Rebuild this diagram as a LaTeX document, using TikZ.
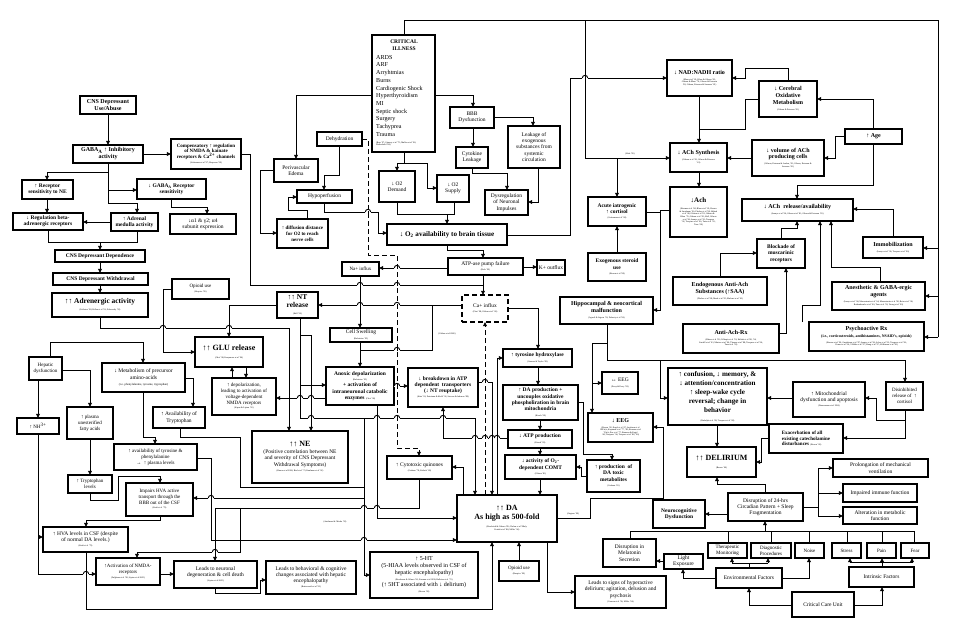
\documentclass[tikz,border=0pt]{standalone}
\usepackage{fontspec}
\setmainfont{Liberation Serif}
\usetikzlibrary{arrows.meta}
\newcommand\bx[7][]{\node[box,minimum width={#5-#3},minimum height={#6-#4},#1] (#2) at ({(#3+#5)/2},{(#4+#6)/2}) {#7};}
\newcommand\ct[1]{\\[-1pt]{\fontsize{2.2}{2.6}\selectfont\mdseries\begin{tabular}[t]{@{}c@{}}#1\end{tabular}}}
\newcommand\ctin[1]{{\fontsize{2.2}{2.6}\selectfont\mdseries #1}}
\newcommand\hop[2]{\draw[white,line width=1.6pt] (#1-2.7,#2) -- (#1+2.7,#2);
 \draw[ln] (#1,#2-1.2) -- (#1,#2+1.2);
 \draw[ln] (#1-2.7,#2) arc[start angle=180,end angle=0,radius=2.7pt];}
\tikzset{
 box/.style={draw,line width=1.35pt,fill=white,inner sep=0.4pt,outer sep=0pt,align=center},
 f5/.style={font=\fontsize{5}{5.8}\selectfont},
 f55/.style={font=\fontsize{5.5}{6.3}\selectfont},
 f6/.style={font=\fontsize{6}{6.9}\selectfont},
 b5/.style={font=\fontsize{5}{5.8}\selectfont\bfseries},
 b55/.style={font=\fontsize{5.5}{6.3}\selectfont\bfseries},
 b6/.style={font=\fontsize{6}{6.9}\selectfont\bfseries},
 b7/.style={font=\fontsize{7}{8}\selectfont\bfseries},
 b75/.style={font=\fontsize{7.4}{8.4}\selectfont\bfseries},
 b8/.style={font=\fontsize{8}{9}\selectfont\bfseries},
 cite/.style={font=\fontsize{2.2}{2.6}\selectfont,inner sep=0pt},
 ar/.style={line width=0.9pt,-{Triangle[length=4.2pt,width=3.8pt]}},
 ln/.style={line width=0.9pt},
 dsh/.style={dash pattern=on 5pt off 3pt},
}
\begin{document}
\begin{tikzpicture}[x=1pt,y=-1pt]
\useasboundingbox (0,0) rectangle (954,633);
\fill[white] (0,0) rectangle (954,633);
% ---------- left column ----------
\bx[b6]{cnsuse}{80}{96}{136}{114}{CNS Depressant\\Use/Abuse}
\bx[b6]{gaba}{73}{145}{143}{163}{GABA\textsubscript{A} ↑ Inhibitory\\activity}
\bx[b5]{comp}{171}{139}{241}{169}{Compensatory ↑ regulation\\of NMDA \& kainate\\receptors \& Ca\textsuperscript{2+} channels\ct{(Lieberman et al '97; Hesperon '99)}}
\bx[b55]{recsens}{22}{180}{73}{199}{↑ Receptor\\sensitivity to NE}
\bx[b55]{gabarec}{137}{179}{206}{199}{↓ GABA\textsubscript{A} Receptor\\sensitivity}
\bx[b55]{regbeta}{13}{213}{83}{230}{↓ Regulation beta-\\adrenergic receptors}
\bx[b55]{adrenal}{111}{213}{158}{231}{↑ Adrenal\\medulla activity}
\bx[f55]{alpha}{170}{214}{236}{234}{↓α1 \& γ2; α4\\subunit expression}
\bx[b55]{dep}{55}{250}{145}{262}{CNS Depressant Dependence}
\bx[b55]{withd}{53}{273}{148}{285}{CNS Depressant Withdrawal}
\bx[b75]{adren}{52}{293}{148}{317}{↑↑ Adrenergic activity\ct{(Littleton '98; Pullen et al '92; Pobowsky '92)}}
\bx[f5]{opi1}{172}{279}{229}{299}{Opioid use\ct{(Hospice '99)}}
\bx[b8]{glu}{195}{337}{263}{367}{↑↑ GLU release\ct{(Choi '98; Kasyanova et al '96)}}
\bx[f5]{hepatic}{29}{357}{62}{380}{Hepatic\\dysfunction}
\bx[f55]{metab}{102}{363}{185}{392}{↓ Metabolism of precursor\\amino-acids\\{\fontsize{3}{3.5}\selectfont (i.e. phenylalanine, tyrosine, tryptophan)}}
\bx[f55]{availtrp}{153}{407}{205}{428}{↑ Availability of\\Tryptophan}
\bx[f5]{depol}{212}{378}{276}{415}{↑ depolarization,\\leading to activation of\\voltage-dependent\\NMDA receptors\ct{(Kapur \& Lipton '92)}}
\bx[f5]{nh}{17}{418}{59}{434}{↑ NH\textsuperscript{3+}}
\bx[f5]{plasma}{67}{407}{113}{439}{↑ plasma\\unesterified\\fatty acids}
\bx[f5]{availtyr}{114}{444}{197}{470}{↑ availability of tyrosine \&\\phenylalanine\\→\ \ ↑ plasma levels}
\bx[f5]{trp}{68}{475}{112}{493}{↑ Tryptophan\\levels}
\bx[f5]{impairs}{126}{483}{193}{516}{Impairs HVA active\\transport through the\\BBB out of the CSF\ct{(Kraft et al '79)}}
\bx[f55]{hva}{43}{527}{128}{552}{↑ HVA levels in CSF (despite\\of normal DA levels.)\ct{(Kraft et al '79)}}
\bx[f5]{nmda}{96}{558}{160}{585}{↑Activation of NMDA-\\receptors\ct{(Fulghesu et al '98; Lipton et al 2005)}}
\bx[f55]{neuro}{174}{561}{257}{588}{Leads to neuronal\\degeneration \& cell death\ct{(Lipton et al 2005)}}
\bx[f55]{ne}{252}{431}{348}{483}{{\fontsize{8}{9}\selectfont\bfseries ↑↑ NE}\\[0.5pt](Positive correlation between NE\\and severity of CNS Depressant\\Withdrawal Symptoms)\ct{(Hawas et al 2000; Bird et al '73; Kaufman et al '92)}}
\bx[f55]{behav}{266}{561}{356}{594}{Leads to behavioral \& cognitive\\changes associated with hepatic\\encephalopathy\ct{(Butterworth et al '93)}}
\bx[f6]{fivht}{370}{552}{478}{598}{↑ 5-HT\\(5-HIAA levels observed in CSF of\\hepatic encephalopathy)\ct{(Brodersen \& Gibson '90; Foxman et al 1990; Balleine et al '72)}\\(↑ 5HT associated with ↓ delirium)\ct{(Brown '00)}}
\bx[f55]{cyto}{387}{456}{452}{479}{↑ Cytotoxic quinones\ct{(Graham '78; Kalisch '80)}}
\bx[b8]{da}{457}{495}{557}{542}{↑↑ DA\\As high as 500-fold\ct{(Broderick \& Gibson '89; Globus et al '88a,b;\\Kotaki et al '88; Miller '94)}}
\bx[b55]{atpprod}{508}{430}{572}{448}{↓ ATP production\ct{(Kirsch '99)}}
\bx[b55]{comt}{505}{455}{576}{479}{↓ activity of O\textsubscript{2}-\\dependent COMT\ct{(Gibson '81)}}
\bx[b55]{toxic}{587}{460}{640}{492}{↑ production\ \ of\\DA toxic\\metabolites\ct{(Graham '81)}}
\bx[b6]{eegdown}{588}{413}{653}{442}{↓ EEG\ct{(Brown '00; Engel et al '47; Jacobson et al\\1993a,b; Koponen et al '77, '80; Romano et al\\'59a,b; Pro et al '77; Romano \& Engel\\'44; Trzepacz '94; Trzepacz et al '88, '96)}}
\bx[f5]{opida}{499}{561}{539}{581}{Opioid use\ct{(Hospice '99)}}
\bx[f55]{hyper}{575}{576}{666}{608}{Leads to signs of hyperactive\\delirium; agitation, delusion and\\psychosis\ct{(Cassem et al '96; Miller '94)}}
\bx[b55]{neurocog}{653}{500}{705}{528}{Neurocognitive\\Dysfunction}
\bx[f55]{melat}{603}{539}{656}{567}{Disruption in\\Melatonin\\Secretion}
\bx[f55]{light}{664}{554}{703}{569}{Light\\Exposure}
\bx[b5,align=left]{exac}{769}{424}{843}{453}{Exacerbation of all\\existing catecholamine\\disturbances \ctin{(Brown '00)}}
\bx[b8]{delir}{687}{447}{756}{477}{↑↑ DELIRIUM\ct{(Brown '00)}}
\bx[f55]{prolong}{833}{459}{928}{477}{Prolongation of mechanical\\ventilation}
\bx[f55]{immune}{843}{484}{917}{502}{Impaired immune function}
\bx[f55]{metabolic}{843}{507}{917}{524}{Alteration in metabolic\\function}
\bx[f55]{circ}{728}{493}{803}{521}{Disruption of 24-hrs\\Circadian Pattern + Sleep\\Fragmentation}
\bx[f5]{therap}{708}{543}{747}{558}{Therapeutic\\Monitoring}
\bx[f5]{diag}{751}{543}{791}{558}{Diagnostic\\Procedures}
\bx[f5]{noise}{795}{543}{824}{558}{Noise}
\bx[f5]{stress}{832}{543}{861}{558}{Stress}
\bx[f5]{pain}{867}{543}{896}{558}{Pain}
\bx[f5]{fear}{901}{543}{929}{558}{Fear}
\bx[f55]{env}{716}{568}{782}{588}{Environmental Factors}
\bx[f55]{intr}{849}{567}{914}{587}{Intrinsic Factors}
\bx[f55]{ccu}{792}{592}{854}{617}{Critical Care Unit}
% ---------- right column ----------
\bx[b6]{achrel}{742}{199}{853}{221}{↓ ACh\ \ release/availability\ct{(Inouye et al '96; Gibson et al '81; Gibson \& Peterson '81)}}
\bx[b55]{block}{757}{239}{805}{268}{Blockade of\\muscarinic\\receptors}
\bx[b6]{endo}{673}{277}{767}{305}{Endogenous Anti-Ach\\Substances (↑SAA)\ct{(Flacker et al '98; Mach et al '95; Mulsant et al '03)}}
\bx[b6]{antirx}{683}{324}{779}{353}{Anti-Ach-Rx\ct{(Blazer et al '83; Gillespie et al '93; Hshieh et al '08, '94,\\Lindell et al '03; Mintzer et al '00; Thomas et al '88; Trzepacz et al '96;\\Tune et al '93)}}
\bx[b6]{immob}{863}{237}{923}{258}{Immobilization\ct{(Inouye et al '96; Trzepacz et al '96)}}
\bx[b6]{anesth}{832}{282}{925}{310}{Anesthetic \& GABA-ergic\\agents\ct{(Inouye et al '94; Marcantonio et al '94; Marcantonio et al '98; Reiss et al '98;\\Rothenhausler et al '00; Tune et al '93; Young et al '90)}}
\bx[b6]{psych}{809}{322}{924}{351}{Psychoactive Rx\\{\fontsize{3.9}{4.6}\selectfont (i.e., corticosteroids, antihistamines, NSAID's, opioids)}\ct{(Bourne et al '90; Gustafsson et al '87; Inouye et al '96; Schor et al '92; Trzepacz et al '96;\\Vinson et al '96; Villalba et al '97; Wang et al '97; Wilkinson et al '90)}}
\bx[f55]{mito}{793}{382}{865}{417}{↑ Mitochondrial\\dysfunction and apoptosis\ct{(Dannemann et al 1996)}}
\bx[f5]{disinh}{886}{382}{923}{410}{Disinhibited\\release of\ \ ↑\\cortisol}
\bx[font=\fontsize{7.1}{9.2}\selectfont\bfseries]{conf}{668}{368}{767}{425}{↑ confusion, ↓ memory, \&\\↓ attention/concentration\\↑ sleep-wake cycle\\reversal; change in\\behavior\ct{(Rudolph et al '08; Trzepacz et al '98)}}
\bx[b6]{nad}{667}{60}{732}{96}{↓ NAD:NADH ratio\ct{(Blass et al '81; Blass \& Gibson '83;\\Gibson \& Blass '76; Gibson \& Peterson\\'82; Gibson, Peterson \& Sansone '81)}}
\bx[b6]{cerox}{759}{81}{817}{117}{↓ Cerebral\\Oxidative\\Metabolism\ct{(Gibson \& Peterson '81)}}
\bx[b6]{age}{845}{129}{902}{144}{↑ Age}
\bx[b6]{volach}{752}{140}{824}{176}{↓ volume of ACh\\producing cells\ct{(Gibson, Peterson \& Jenden, '81; Gibson, Peterson \&\\Sansone '81)}}
\bx[b6]{achsyn}{670}{143}{727}{172}{↓ ACh Synthesis\ct{(Gibson et al '81; Gibson \& Peterson\\'81)}}
\bx[b7]{ach}{670}{187}{727}{237}{↓Ach\ct{(Berman et al '84; Blass et al '81; Brown\\\& Sundaram '96; Flacker et al '98; Hshieh\\et al '08; Gibson et al '81; Gibson \&\\Blass '76; Gibson et al '81; Hall, Gibson\\et al '96; Inouye et al '93; Trzepacz\\'92; Trzepacz et al '96; Tune et al '93;\\Tune '00)}}
% ---------- top centre ----------
\bx[f55]{leak}{508}{126}{560}{168}{Leakage of\\exogenous\\substances from\\systemic\\circulation}
\bx[f55]{dysreg}{485}{190}{528}{215}{Dysregulation\\of Neuronal\\Impulses}
\bx[b55]{acute}{588}{197}{646}{226}{Acute iatrogenic\\↑ cortisol\ct{(Gottesman et al '98)}}
\bx[f55]{cytok}{456}{147}{488}{168}{Cytokine\\Leakage}
\bx[f55]{bbb}{450}{107}{494}{128}{BBB\\Dysfunction}
\bx{crit}{372}{35}{435}{152}{}
\node[b55,align=center,anchor=north,inner sep=0pt] (crittitle) at (404,40) {CRITICAL\\ILLNESS};
\node[font=\fontsize{6.1}{7.7}\selectfont,align=left,anchor=north west,inner sep=0pt] (critlist) at (376,55) {ARDS\\ARF\\Arryhtmias\\Burns\\Cardiogenic Shock\\Hyperthyroidism\\MI\\Septic shock\\Surgery\\Tachyprea\\Trauma};
\node[cite,align=left,anchor=north west] (critcite) at (376,141.5) {(Brar '97; Gimsey et al '75; Mullen et al '98;\\Wetherhold '86)};
\bx[f55]{dehyd}{317}{132}{362}{146}{Dehydration}
\bx[f55]{periv}{274}{159}{318}{182}{Perivascular\\Edema}
\bx[f55]{hypop}{297}{190}{352}{203}{Hypoperfusion}
\bx[f55]{o2dem}{379}{171}{415}{202}{↓ O2\\Demand}
\bx[f55]{o2sup}{437}{175}{469}{202}{↓ O2\\Supply}
\bx[b5]{diff}{277}{219}{328}{248}{↑ diffusion distance\\for O2 to reach\\nerve cells}
\bx[font=\fontsize{7.1}{8}\selectfont\bfseries]{o2av}{387}{224}{507}{245}{↓ O\textsubscript{2} availability to brain tissue}
\bx[f55]{atpase}{448}{258}{523}{275}{ATP-ase pump failure\ct{(Hale '99)}}
\bx[f55]{kout}{537}{260}{565}{275}{K+ outflux}
\bx[f5]{na}{342}{262}{379}{276}{Na+ influx}
\bx[b75]{nt}{277}{292}{318}{318}{↑↑ NT\\release\ct{(Hall '92)}}
\bx[f55,dash pattern=on 5pt off 3pt]{ca}{462}{295}{508}{322}{Ca+ influx\ct{(Choi '98; Globus et al '00)}}
\bx[f55]{cell}{330}{328}{392}{342}{Cell Swelling\ct{(Balestrino '95)}}
\bx[b55]{anox}{326}{367}{394}{405}{Anoxic depolarization\ct{(Balestrino '95)}\\+ activation of\\intraneuronal catabolic\\enzymes \ctin{(Choi '98)}}
\bx[b55]{breakd}{408}{368}{478}{407}{↓ breakdown in ATP\\dependent\ \ transporters\\(↓ NT reuptake)\ct{(Katz '92; Petroianu \& Kiehl '92; Stevens \& Johnson '88)}}
\bx[b55]{tyro}{503}{349}{572}{367}{↑ tyrosine hydroxylase\ct{(Gannon \& Taylor '83)}}
\bx[b55]{daprod}{503}{385}{578}{420}{↑ DA production +\\uncouples oxidative\\phospholiration in brain\\mitochondria\ct{(Kirsch '99)}}
\bx[b55]{exo}{588}{253}{646}{281}{Exogenous steroid\\use\ct{(Brown et al '98)}}
\bx[b6]{hippo}{560}{297}{653}{324}{Hippocampal \& neocortical\\malfunction\ct{(Agnoli \& Jirgens '93; Doherty et al '96)}}
\bx[f55]{eegeq}{602}{372}{638}{394}{↔ EEG\ct{(Perry \& Perry '99)}}
\node[cite] (lbhale) at (630,154) {(Hale '99)};
\node[cite] (lbglob) at (447,334) {(Globus et al 2000)};
\node[cite] (lbant) at (335,522) {(Antelman \& Chiodo '92)};
\node[cite] (lbgag) at (573,514) {(Gagnon '99)};
% ================= connectors =================
\draw[ar] (cnsuse.south) -- (gaba.north);
\draw[ar] (gaba.east) -- (comp.west);
\draw[ar] (gaba.south) -- (108,203) -- (137,203) -- (137,0 |- adrenal.north);
\draw[ar] (108,172) -- (47,172) -- (47,0 |- recsens.north);
\draw[ar] (108,190) -- (gabarec.west |- 0,190);
\draw[ar] (171,0 |- gabarec.south) -- (171,207) -- (207,207) -- (207,0 |- alpha.north);
\draw[ar] (47,0 |- recsens.south) -- (47,0 |- regbeta.north);
\draw[ar] (adrenal.west |- 0,222) -- (regbeta.east |- 0,222);
\draw[ln] (48,0 |- regbeta.south) -- (48,242) -- (137,242) -- (137,0 |- adrenal.south);
\draw[ar] (100,242) -- (100,0 |- dep.north);
\draw[ar] (100,0 |- dep.south) -- (100,0 |- withd.north);
\draw[ar] (100,0 |- withd.south) -- (100,0 |- adren.north);
\draw[ar] (100,0 |- adren.south) -- (100,328) -- (289,328) -- (289,0 |- ne.north);
\draw[ar] (opi1.west) -- (163,289) -- (163,352) -- (glu.west |- 0,352);
\draw[ar] (nt.west) -- (229,305) -- (229,0 |- glu.north);
\draw[ar] (232,0 |- depol.north) -- (232,0 |- glu.south);
\draw[ar] (246,0 |- glu.south) -- (246,0 |- depol.north);
\draw[ln] (comp.east) -- (250,154) -- (250,285) -- (483,285);
\draw[ar] (483,0 |- atpase.south) -- (483,0 |- ca.north);
\draw[ar] (447,0 |- o2av.south) -- (447,250) -- (483,250) -- (483,0 |- atpase.north);
\draw[ar] (atpase.west |- 0,268) -- (na.east |- 0,268);
\draw[ar] (atpase.east |- 0,267) -- (kout.west |- 0,267);
\draw[ar] (360,0 |- na.south) -- (360,0 |- cell.north);
\draw[ar] (ca.west |- 0,305) -- (nt.east |- 0,305);
\draw[ln] (432,305) -- (432,350) -- (360,350);
\draw[ar] (360,0 |- cell.south) -- (360,0 |- anox.north);
\draw[ln] (300,0 |- nt.south) -- (300,418) -- (475,418);
\draw[ar] (475,418) -- (475,0 |- da.north);
\draw[ar] (300,335) -- (311,335) -- (311,0 |- ne.north);
\draw[ar] (300,385) -- (anox.west |- 0,385);
\draw[ar] (anox.west |- 0,398) -- (depol.east |- 0,398);
\draw[ar] (anox.east |- 0,386) -- (breakd.west |- 0,386);
\draw[ar] (breakd.east |- 0,382) -- (492,382) -- (492,0 |- da.north);
\draw[ar] (atpprod.west |- 0,438) -- (443,438) -- (443,0 |- breakd.south);
\draw[ar,dsh] (485,0 |- da.north) -- (485,0 |- ca.south);
\draw[ar] (497,0 |- da.north) -- (497,358) -- (tyro.west |- 0,358);
\draw[ar] (ca.east |- 0,308) -- (538,308) -- (538,0 |- tyro.north);
\draw[ar] (538,0 |- tyro.south) -- (538,0 |- daprod.north);
\draw[ar] (540,0 |- daprod.south) -- (540,0 |- atpprod.north);
\draw[ar] (540,0 |- atpprod.south) -- (540,0 |- comt.north);
\draw[ar] (540,0 |- comt.south) -- (540,0 |- da.north);
\draw[ar] (daprod.east |- 0,402) -- (583,402) -- (583,454) -- (612,454) -- (612,0 |- toxic.north);
\draw[ar] (toxic.west |- 0,476) -- (581,476) -- (581,467) -- (comt.east |- 0,467);
\draw[ar] (da.east |- 0,518) -- (590,518) -- (590,498) -- (663,498) -- (663,427) -- (eegdown.east |- 0,427);
\draw[ar] (547,0 |- da.south) -- (547,592) -- (hyper.west |- 0,592);
\draw[ar] (519,0 |- opida.north) -- (519,0 |- da.south);
\draw[ar] (86,0 |- hva.south) -- (86,609) -- (492,609) -- (492,0 |- da.south);
\draw[ar] (160,0 |- impairs.south) -- (160,520) -- (86,520) -- (86,0 |- hva.north);
\draw[ar] (90,0 |- trp.south) -- (90,500) -- (118,500) -- (118,476) -- (160,476) -- (160,0 |- impairs.north);
\draw[ar] (90,0 |- plasma.south) -- (90,0 |- trp.north);
\draw[ar] (hepatic.east |- 0,370) -- (90,370) -- (90,0 |- plasma.north);
\draw[ar] (38,0 |- hepatic.south) -- (38,0 |- nh.north);
\draw[ar] (50,0 |- hepatic.north) -- (50,342) -- (143,342) -- (143,0 |- metab.north);
\draw[ar] (metab.east |- 0,378) -- (193,378) -- (193,0 |- availtrp.north);
\draw[ar] (143,0 |- metab.south) -- (143,437) -- (155,437) -- (155,0 |- availtyr.north);
\draw[ar] (38,0 |- nh.south) -- (38,574) -- (nmda.west |- 0,574);
\draw[ar] (38,537) -- (hva.west |- 0,537);
\draw[ar] (nmda.east |- 0,574) -- (neuro.west |- 0,574);
\draw[ar] (215,0 |- neuro.south) -- (215,593) -- (260,593) -- (260,580) -- (behav.west |- 0,580);
\draw[ar] (availtyr.east |- 0,458) -- (211,458) -- (211,540) -- (da.west |- 0,540);
\draw[ln] (180,0 |- availtrp.south) -- (180,437) -- (240,437) -- (240,487) -- (364,487);
\draw[ar] (364,418) -- (364,575) -- (fivht.west |- 0,575);
\draw[ar] (364,498) -- (impairs.east |- 0,498);
\draw[ar] (419,0 |- cyto.south) -- (419,508) -- (215,508) -- (215,0 |- neuro.north);
\draw[ar] (240,508) -- (240,552) -- (137,552) -- (137,0 |- nmda.north);
\draw[ar] (377,0 |- anox.south) -- (377,518) -- (da.west |- 0,518);
\draw[ar,dsh] (dehyd.east |- 0,139) -- (368,139) -- (368,255) -- (397,255) -- (397,448) -- (419,448) -- (419,0 |- cyto.north);
\draw[ar] (463,0 |- da.north) -- (463,467) -- (cyto.east |- 0,467);
% right side
\draw[ln] (404,0 |- crit.north) -- (404,20) -- (938,20) -- (938,337);
\draw[ar] (938,337) -- (psych.east |- 0,337);
\draw[ar] (938,248) -- (immob.east |- 0,248);
\draw[ar] (938,296) -- (anesth.east |- 0,296);
\draw[ar] (585,20) -- (585,158) -- (achsyn.west |- 0,158);
\draw[ar] (617,158) -- (617,0 |- acute.north);
\draw[ar] (o2av.east |- 0,235) -- (570,235) -- (570,78) -- (nad.west |- 0,78);
\draw[ar] (788,0 |- cerox.north) -- (788,68) -- (745,68) -- (745,78) -- (nad.east |- 0,78);
\draw[ar] (699,0 |- nad.south) -- (699,0 |- achsyn.north);
\draw[ln] (cerox.west |- 0,99) -- (745,99) -- (745,129) -- (699,129);
\draw[ar] (873,0 |- age.north) -- (873,99) -- (cerox.east |- 0,99);
\draw[ar] (age.west |- 0,136) -- (835,136) -- (835,158) -- (volach.east |- 0,158);
\draw[ar] (873,0 |- age.south) -- (873,185) -- (797,185) -- (797,0 |- achrel.north);
\draw[ar] (volach.west |- 0,158) -- (achsyn.east |- 0,158);
\draw[ar] (699,0 |- achsyn.south) -- (699,0 |- ach.north);
\draw[ar] (ach.west |- 0,210) -- (660,210) -- (660,310) -- (hippo.east |- 0,310);
\draw[ln] (acute.east |- 0,212) -- (660,212);
\draw[ar] (617,0 |- exo.north) -- (617,0 |- acute.south);
\draw[ar] (781,0 |- block.north) -- (781,228) -- (797,228) -- (797,0 |- achrel.south);
\draw[ar] (880,0 |- anesth.north) -- (880,267) -- (831,267) -- (831,0 |- achrel.south);
\draw[ar] (802,0 |- psych.north) -- (802,305) -- (820,305) -- (820,0 |- achrel.south);
\draw[ar] (893,0 |- immob.north) -- (893,209) -- (achrel.east |- 0,209);
\draw[ar] (720,0 |- endo.north) -- (720,253) -- (block.west |- 0,253);
\draw[ar] (antirx.east |- 0,333) -- (786,333) -- (786,0 |- block.south);
\draw[ar] (607,0 |- hippo.south) -- (607,360) -- (905,360) -- (905,0 |- disinh.north);
\draw[ar] (660,360) -- (660,398) -- (conf.west |- 0,398);
\draw[ar] (607,343) -- (592,343) -- (592,0 |- eegdown.north);
\draw[ar] (592,383) -- (eegeq.west |- 0,383);
\draw[ar] (mito.west |- 0,398) -- (conf.east |- 0,398);
\draw[ar] (905,0 |- disinh.south) -- (905,438) -- (exac.east |- 0,438);
\draw[ar] (905,420) -- (876,420) -- (876,398) -- (mito.east |- 0,398);
\draw[ar] (exac.west |- 0,438) -- (761,438) -- (761,462) -- (delir.east |- 0,462);
\draw[ar] (717,0 |- conf.south) -- (717,0 |- delir.north);
\draw[ar] (765,0 |- circ.north) -- (765,484) -- (717,484) -- (717,0 |- delir.south);
\draw[ar] (circ.west |- 0,514) -- (neurocog.east |- 0,514);
\draw[ar] (circ.east |- 0,507) -- (818,507) -- (818,468) -- (prolong.west |- 0,468);
\draw[ar] (818,493) -- (immune.west |- 0,493);
\draw[ar] (818,507) -- (818,516) -- (metabolic.west |- 0,516);
\draw[ln] (630,0 |- melat.north) -- (630,531) -- (914,531);
\draw[ln] (728,531) -- (728,0 |- therap.north);
\draw[ln] (771,531) -- (771,0 |- diag.north);
\draw[ln] (809,531) -- (809,0 |- noise.north);
\draw[ln] (847,531) -- (847,0 |- stress.north);
\draw[ln] (882,531) -- (882,0 |- pain.north);
\draw[ln] (914,531) -- (914,0 |- fear.north);
\draw[ar] (765,531) -- (765,0 |- circ.south);
\draw[ar] (light.west |- 0,561) -- (melat.east |- 0,561);
\draw[ar] (env.west |- 0,578) -- (683,578) -- (683,0 |- light.south);
\draw[ln] (749,0 |- env.north) -- (749,563);
\draw[ln] (732,563) -- (768,563);
\draw[ar] (732,563) -- (732,0 |- therap.south);
\draw[ar] (768,563) -- (768,0 |- diag.south);
\draw[ar] (env.east |- 0,578) -- (809,578) -- (809,0 |- noise.south);
\draw[ln] (882,0 |- intr.north) -- (882,562);
\draw[ln] (850,562) -- (912,562);
\draw[ar] (850,562) -- (850,0 |- stress.south);
\draw[ar] (882,562) -- (882,0 |- pain.south);
\draw[ar] (912,562) -- (912,0 |- fear.south);
\draw[ar] (ccu.west |- 0,605) -- (749,605) -- (749,0 |- env.south);
\draw[ar] (ccu.east |- 0,605) -- (882,605) -- (882,0 |- intr.south);
% top centre
\draw[ar] (crit.west |- 0,95) -- (296,95) -- (296,0 |- periv.north);
\draw[ar] (periv.west |- 0,170) -- (260,170) -- (260,233) -- (diff.west |- 0,233);
\draw[ar] (339,0 |- dehyd.south) -- (339,175) -- (324,175) -- (324,0 |- hypop.north);
\draw[ar] (307,0 |- diff.north) -- (307,210) -- (288,210) -- (288,197) -- (hypop.west |- 0,197);
\draw[ar] (324,0 |- hypop.south) -- (324,212) -- (378,212) -- (378,233) -- (o2av.west |- 0,233);
\draw[ar] (404,0 |- crit.south) -- (404,163) -- (397,163) -- (397,0 |- o2dem.north);
\draw[ar] (404,163) -- (427,163) -- (427,188) -- (o2sup.west |- 0,188);
\draw[ln] (397,0 |- o2dem.south) -- (397,214) -- (454,214) -- (454,0 |- o2sup.south);
\draw[ar] (447,214) -- (447,0 |- o2av.north);
\draw[ar] (crit.east |- 0,95) -- (473,95) -- (473,0 |- bbb.north);
\draw[ar] (473,0 |- bbb.south) -- (473,0 |- cytok.north);
\draw[ar] (bbb.east |- 0,117) -- (533,117) -- (533,0 |- leak.north);
\draw[ar] (472,0 |- cytok.south) -- (472,173) -- (507,173) -- (507,0 |- dysreg.north);
\draw[ar] (538,0 |- leak.south) -- (538,202) -- (dysreg.east |- 0,202);
% line hops at crossings
\hop{163}{328}\hop{229}{328}
\hop{360}{285}\hop{397}{285}
\hop{397}{268}
\hop{360}{305}\hop{397}{305}
\hop{397}{350}\hop{397}{386}
\hop{300}{398}\hop{311}{398}
\hop{311}{418}\hop{377}{418}\hop{397}{418}\hop{443}{418}
\hop{475}{438}\hop{485}{438}\hop{492}{438}\hop{497}{438}
\hop{485}{382}
\hop{585}{78}
\hop{211}{498}\hop{364}{508}\hop{377}{508}
\hop{364}{540}\hop{215}{552}\hop{86}{574}
\hop{368}{212}
\end{tikzpicture}
\end{document}
